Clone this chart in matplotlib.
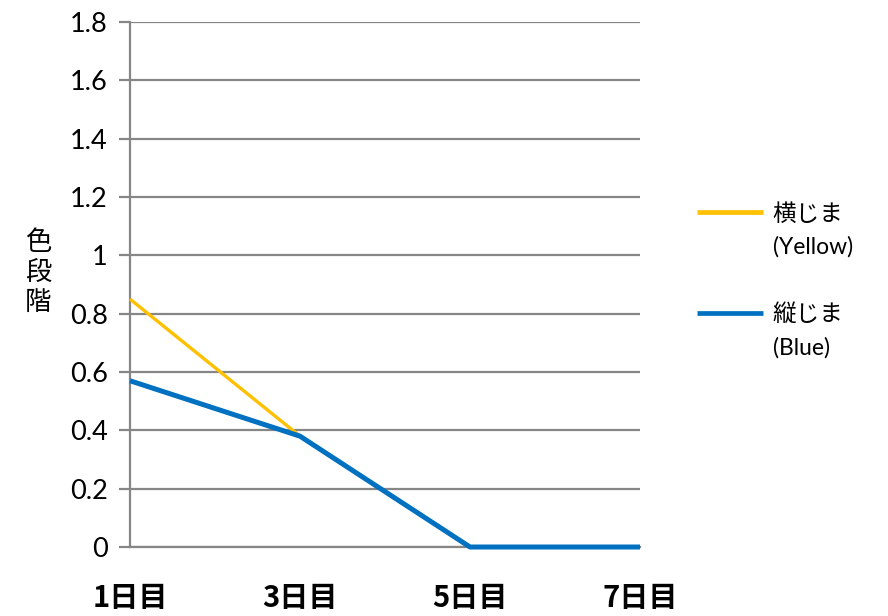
import matplotlib
matplotlib.use("Agg")
import matplotlib.pyplot as plt

plt.rcParams['font.family'] = ['Lato', 'Noto Sans CJK JP', 'DejaVu Sans']

days = [1, 3, 5, 7]
day_labels = ['1日目', '3日目', '5日目', '7日目']
yellow = [0.85, 0.38, 0.0, 0.0]
blue = [0.57, 0.38, 0.0, 0.0]
yticks = [0, 0.2, 0.4, 0.6, 0.8, 1, 1.2, 1.4, 1.6, 1.8]
ytick_labels = ['0', '0.2', '0.4', '0.6', '0.8', '1', '1.2', '1.4', '1.6', '1.8']
series_names = ['横じま', '縦じま']
series_notes = ['(Yellow)', '(Blue)']

fig = plt.figure(figsize=(8.88, 6.16), dpi=100)
ax = fig.add_axes([0.1464, 0.112, 0.5743, 0.8523])

grid_c = '#868686'
ax.plot(days, yellow, color='#FFC000', lw=2.4, label=series_names[0],
        solid_capstyle='butt', clip_on=False, zorder=3)
ax.plot(days, blue, color='#0070C0', lw=3.6, label=series_names[1],
        solid_capstyle='butt', clip_on=False, zorder=4)

ax.set_xlim(1, 7)
ax.set_ylim(0, 1.8)
ax.set_yticks(yticks)
ax.set_yticklabels(ytick_labels)
ax.yaxis.grid(True, color=grid_c, lw=1.6)
ax.set_axisbelow(True)
for s in ['top', 'right']:
    ax.spines[s].set_visible(False)
for s in ['left', 'bottom']:
    ax.spines[s].set_color(grid_c)
    ax.spines[s].set_linewidth(1.6)
ax.tick_params(axis='y', length=8, width=1.6, color=grid_c, labelsize=19.5, pad=8)

ax.set_xticks(days)
ax.set_xticklabels(day_labels, fontsize=21, fontweight='bold',
                   family=['Noto Sans CJK JP', 'DejaVu Sans'])
ax.tick_params(axis='x', length=0, pad=26)

ax.set_ylabel('色\n段\n階', rotation=0, fontsize=19, linespacing=1.15,
              family=['Noto Sans CJK JP', 'DejaVu Sans'], va='center')
ax.yaxis.set_label_coords(-0.18, 0.523)

leg = fig.legend(loc='upper left', bbox_to_anchor=(0.785, 0.671), frameon=False,
                 fontsize=17, handlelength=2.8, handletextpad=0.4, labelspacing=3.35,
                 borderaxespad=0, borderpad=0)
for h in leg.legend_handles:
    h.set_linewidth(3.4)

# second line of each legend entry, under its name
fig.canvas.draw()
for t, note in zip(leg.get_texts(), series_notes):
    bb = t.get_window_extent()
    fig.text(bb.x0 / fig.bbox.width, (bb.y0 - 12) / fig.bbox.height, note,
             fontsize=16.5, va='top', ha='left')

fig.savefig('out.png', dpi=100)
